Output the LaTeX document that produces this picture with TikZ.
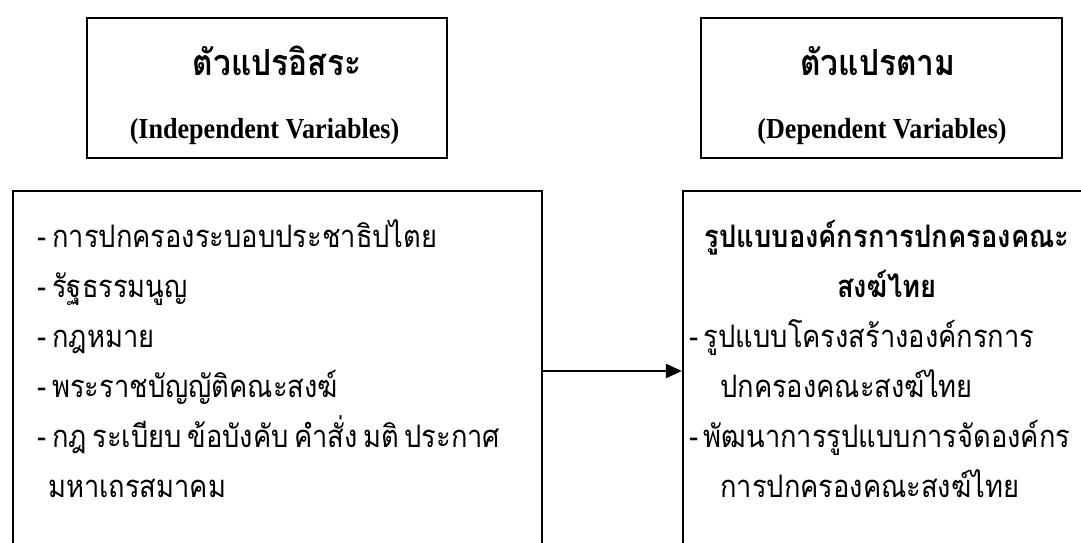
\documentclass[tikz,border=0pt]{standalone}
\usepackage{fontspec}
\setmainfont{Liberation Serif}[FakeStretch=0.9]
\newfontfamily\thaifont[Script=Thai,FakeStretch=0.88,WordSpace=0.6]{Loma}
\usetikzlibrary{arrows.meta}
\begin{document}
\begin{tikzpicture}[x=1pt,y=-1pt,
  headbox/.style={draw, line width=2pt, inner sep=0pt},
  listbox/.style={draw, line width=1.6pt, inner sep=0pt},
  ttl/.style={anchor=base, inner sep=0pt, font=\thaifont\bfseries\fontsize{36}{36}\selectfont},
  eng/.style={anchor=base, inner sep=0pt, font=\bfseries\fontsize{29}{29}\selectfont},
  ln/.style={anchor=base west, inner sep=0pt, font=\thaifont\fontsize{31}{31}\selectfont},
  lnb/.style={anchor=base, inner sep=0pt, font=\thaifont\bfseries\fontsize{31}{31}\selectfont},
  arr/.style={line width=2.2pt, -{Triangle[length=16pt,width=14pt]}}]
\useasboundingbox (0,0) rectangle (1081,543);
% boxes
\node[headbox, minimum width=360pt, minimum height=140pt] (ivh) at (266.7,87.7) {};
\node[headbox, minimum width=361pt, minimum height=140pt] (dvh) at (881.5,87.9) {};
\node[listbox, minimum width=529pt, minimum height=420pt] (ivl) at (277.2,401) {};
\node[listbox, minimum width=420pt, minimum height=420pt] (dvl) at (892.7,401) {};
% headings
\node[ttl] (ivt) at (277,75) {ตัวแปรอิสระ};
\node[eng] (ive) at (264.5,138) {(Independent Variables)};
\node[ttl] (dvt) at (878,75) {ตัวแปรตาม};
\node[eng] (dve) at (882,138) {(Dependent Variables)};
% left list
\node[ln] (l1) at (37.5,247) {- การปกครองระบอบประชาธิปไตย};
\node[ln] (l2) at (37.5,297) {- รัฐธรรมนูญ};
\node[ln] (l3) at (37.5,347) {- กฎหมาย};
\node[ln] (l4) at (37.5,397) {- พระราชบัญญัติคณะสงฆ์};
\node[ln] (l5) at (37.5,447) {- กฎ ระเบียบ ข้อบังคับ คำสั่ง มติ ประกาศ};
\node[ln] (l6) at (48,497) {มหาเถรสมาคม};
% right list
\node[lnb] (r1) at (887,247) {รูปแบบองค์กรการปกครองคณะ};
\node[lnb] (r2) at (887,297) {สงฆ์ไทย};
\node[ln] (r3) at (689,347) {- รูปแบบโครงสร้างองค์กรการ};
\node[ln] (r4) at (720,397) {ปกครองคณะสงฆ์ไทย};
\node[ln] (r5) at (689,447) {- พัฒนาการรูปแบบการจัดองค์กร};
\node[ln] (r6) at (720,497) {การปกครองคณะสงฆ์ไทย};
% connector
\coordinate (ay) at (0,371);
\draw[arr] (ivl.east |- ay) -- (dvl.west |- ay);
\end{tikzpicture}
\end{document}
